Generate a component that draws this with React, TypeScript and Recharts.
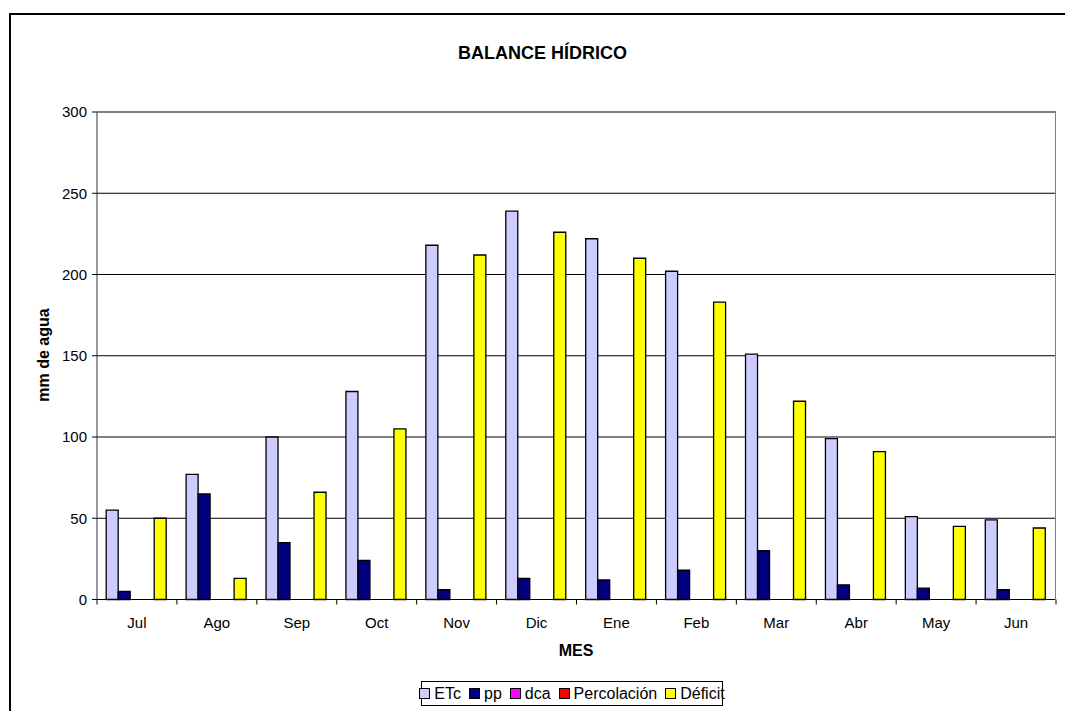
import React from "react";
import {
  BarChart,
  Bar,
  XAxis,
  YAxis,
  CartesianGrid,
} from "recharts";

const meses = ["Jul", "Ago", "Sep", "Oct", "Nov", "Dic", "Ene", "Feb", "Mar", "Abr", "May", "Jun"];
const etc = [55, 77, 100, 128, 218, 239, 222, 202, 151, 99, 51, 49];
const pp = [5, 65, 35, 24, 6, 13, 12, 18, 30, 9, 7, 6];
const dca = [0, 0, 0, 0, 0, 0, 0, 0, 0, 0, 0, 0];
const percolacion = [0, 0, 0, 0, 0, 0, 0, 0, 0, 0, 0, 0];
const deficit = [50, 13, 66, 105, 212, 226, 210, 183, 122, 91, 45, 44];
const yTicks = [0, 50, 100, 150, 200, 250, 300];

const series = [
  { key: "etc", name: "ETc", color: "#CCCCFF" },
  { key: "pp", name: "pp", color: "#000080" },
  { key: "dca", name: "dca", color: "#FF00FF" },
  { key: "perc", name: "Percolación", color: "#FF0000" },
  { key: "def", name: "Déficit", color: "#FFFF00" },
];

const data = meses.map((mes, i) => ({
  mes,
  etc: etc[i],
  pp: pp[i],
  dca: dca[i],
  perc: percolacion[i],
  def: deficit[i],
}));

const FONT = '"Liberation Sans", Arial, sans-serif';
const W = 1065;
const H = 711;

// category labels plus the small tick marks Excel puts between categories
function MonthTick(props: any) {
  const { x, y, payload, index, width, visibleTicksCount } = props;
  const half = width / visibleTicksCount / 2;
  const axisY = y - 18;
  return (
    <g>
      <line x1={x - half} x2={x - half} y1={axisY} y2={axisY + 5} stroke="#000" />
      {index === visibleTicksCount - 1 && (
        <line x1={x + half} x2={x + half} y1={axisY} y2={axisY + 5} stroke="#000" />
      )}
      <text x={x} y={y} dy="0.71em" textAnchor="middle" fill="#000" fontSize={15} fontFamily={FONT}>
        {payload.value}
      </text>
    </g>
  );
}

export default function App() {
  return (
    <div
      style={{
        position: "fixed",
        left: 0,
        top: 0,
        width: W,
        height: H,
        background: "#fff",
        overflow: "hidden",
        fontFamily: FONT,
      }}
    >
      {/* chart-area frame: only its left and top edges fall inside the page */}
      <div
        style={{
          position: "absolute",
          left: 9,
          top: 13,
          width: 2,
          height: H,
          background: "#000",
        }}
      />
      <div
        style={{
          position: "absolute",
          left: 9,
          top: 13,
          width: W,
          height: 2,
          background: "#000",
        }}
      />
      <BarChart
        width={W}
        height={H}
        data={data}
        margin={{ top: 112, right: 9, left: 0, bottom: 0 }}
        barCategoryGap="11.5%"
        barGap={0}
      >
        <CartesianGrid vertical={false} stroke="#000" strokeWidth={1} />
        <XAxis
          dataKey="mes"
          height={111.5}
          axisLine={{ stroke: "#000" }}
          tickLine={false}
          tickSize={0}
          tickMargin={18}
          interval={0}
          tick={<MonthTick />}
        />
        <YAxis
          width={97}
          domain={[0, 300]}
          ticks={yTicks}
          interval={0}
          axisLine={{ stroke: "#333" }}
          tickLine={{ stroke: "#000" }}
          tickSize={5}
          tickMargin={5}
          tick={{ fill: "#000", fontSize: 15, fontFamily: FONT }}
        />
        {series.map((s) => (
          <Bar
            key={s.key}
            dataKey={s.key}
            name={s.name}
            fill={s.color}
            stroke="#000"
            strokeWidth={1.3}
            isAnimationActive={false}
          />
        ))}
      </BarChart>
      {/* plot area frame (top and right edges) */}
      <div
        style={{
          position: "absolute",
          left: 97,
          top: 111.5,
          width: 959,
          height: 488,
          boxSizing: "border-box",
          borderTop: "1px solid #808080",
          borderRight: "1px solid #808080",
          pointerEvents: "none",
        }}
      />
      <div
        style={{
          position: "absolute",
          left: 0,
          width: W + 20,
          top: 42,
          textAlign: "center",
          fontWeight: "bold",
          fontSize: 18,
          lineHeight: "22px",
          color: "#000",
        }}
      >
        BALANCE HÍDRICO
      </div>
      <div
        style={{
          position: "absolute",
          left: 44,
          top: 355,
          transform: "translate(-50%, -50%) rotate(-90deg)",
          fontWeight: "bold",
          fontSize: 16,
          whiteSpace: "nowrap",
          color: "#000",
        }}
      >
        mm de agua
      </div>
      <div
        style={{
          position: "absolute",
          left: 576,
          top: 651,
          transform: "translate(-50%, -50%)",
          fontWeight: "bold",
          fontSize: 16,
          color: "#000",
        }}
      >
        MES
      </div>
      <div
        style={{
          position: "absolute",
          left: 421,
          top: 681,
          width: 302,
          height: 25,
          boxSizing: "border-box",
          border: "1.5px solid #000",
          display: "flex",
          alignItems: "center",
          justifyContent: "center",
          gap: 8,
          fontSize: 16,
          color: "#000",
        }}
      >
        {series.map((s) => (
          <div key={s.key} style={{ display: "flex", alignItems: "center", gap: 4 }}>
            <span
              style={{
                display: "inline-block",
                width: 9,
                height: 9,
                background: s.color,
                border: "1.5px solid #000",
              }}
            />
            <span>{s.name}</span>
          </div>
        ))}
      </div>
    </div>
  );
}
